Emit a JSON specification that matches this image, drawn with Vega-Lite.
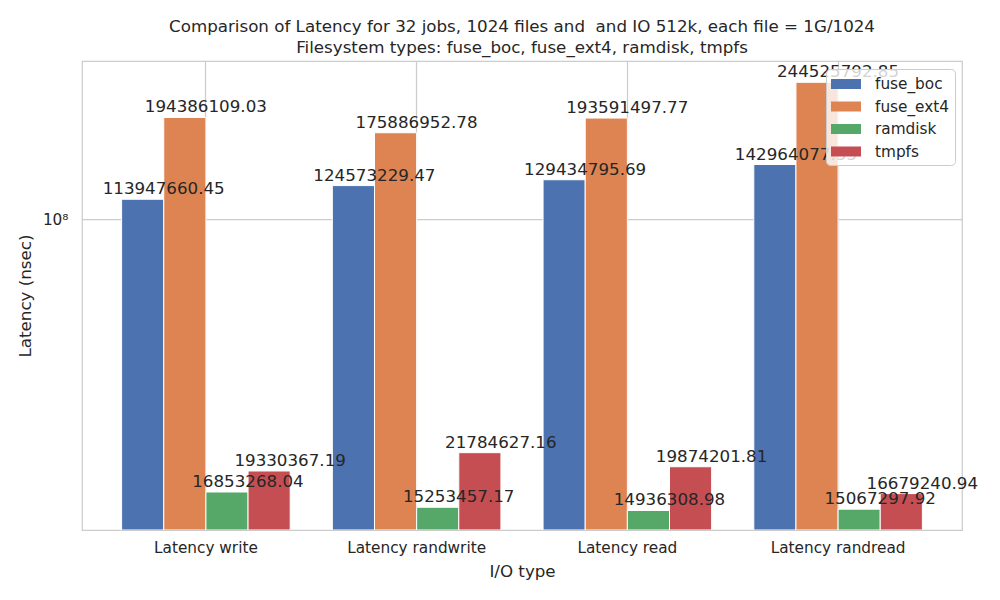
{
  "$schema": "https://vega.github.io/schema/vega-lite/v6.json",
  "width": 880,
  "height": 469,
  "autosize": {"type": "none"},
  "padding": {"left": 82, "top": 61, "right": 38, "bottom": 70},
  "background": "white",
  "title": {
    "text": ["Comparison of Latency for 32 jobs, 1024 files and \u00a0and IO 512k, each file = 1G/1024", "Filesystem types: fuse_boc, fuse_ext4, ramdisk, tmpfs"],
    "font": "DejaVu Sans",
    "fontSize": 16.7,
    "fontWeight": "normal",
    "color": "#262626",
    "lineHeight": 21,
    "offset": 4,
    "anchor": "middle",
    "frame": "group"
  },
  "data": {
    "values": [
      {"io": "Latency write", "fs": "fuse_boc", "latency": 113947660.45},
      {"io": "Latency write", "fs": "fuse_ext4", "latency": 194386109.03},
      {"io": "Latency write", "fs": "ramdisk", "latency": 16853268.04},
      {"io": "Latency write", "fs": "tmpfs", "latency": 19330367.19},
      {"io": "Latency randwrite", "fs": "fuse_boc", "latency": 124573229.47},
      {"io": "Latency randwrite", "fs": "fuse_ext4", "latency": 175886952.78},
      {"io": "Latency randwrite", "fs": "ramdisk", "latency": 15253457.17},
      {"io": "Latency randwrite", "fs": "tmpfs", "latency": 21784627.16},
      {"io": "Latency read", "fs": "fuse_boc", "latency": 129434795.69},
      {"io": "Latency read", "fs": "fuse_ext4", "latency": 193591497.77},
      {"io": "Latency read", "fs": "ramdisk", "latency": 14936308.98},
      {"io": "Latency read", "fs": "tmpfs", "latency": 19874201.81},
      {"io": "Latency randread", "fs": "fuse_boc", "latency": 142964077.33},
      {"io": "Latency randread", "fs": "fuse_ext4", "latency": 244525792.85},
      {"io": "Latency randread", "fs": "ramdisk", "latency": 15067297.92},
      {"io": "Latency randread", "fs": "tmpfs", "latency": 16679240.94}
    ]
  },
  "encoding": {
    "x": {
      "field": "io",
      "type": "nominal",
      "sort": ["Latency write", "Latency randwrite", "Latency read", "Latency randread"],
      "scale": {"paddingInner": 0.2, "paddingOuter": 0.188},
      "axis": {
        "title": "I/O type",
        "labelAngle": 0,
        "ticks": false,
        "domain": false,
        "grid": true,
        "bandPosition": 0.5,
        "gridColor": "#cccccc",
        "gridWidth": 1.25,
        "labelFontSize": 15.3,
        "titleFontSize": 16.7,
        "labelPadding": 10,
        "titlePadding": 8
      }
    },
    "xOffset": {
      "field": "fs",
      "type": "nominal",
      "sort": ["fuse_boc", "fuse_ext4", "ramdisk", "tmpfs"],
      "scale": {"paddingInner": 0, "paddingOuter": 0}
    },
    "y": {
      "field": "latency",
      "type": "quantitative",
      "scale": {"type": "log", "domain": [13150000, 281000000]},
      "axis": {
        "title": "Latency (nsec)",
        "values": [100000000],
        "labelExpr": "'10⁸'",
        "ticks": false,
        "domain": false,
        "grid": true,
        "gridColor": "#cccccc",
        "gridWidth": 1.25,
        "labelFontSize": 15.3,
        "titleFontSize": 16.7,
        "labelPadding": 14,
        "titlePadding": 8
      }
    }
  },
  "layer": [
    {
      "mark": {"type": "bar", "stroke": "white", "strokeWidth": 1, "clip": true},
      "encoding": {
        "y2": {"datum": 13150000},
        "color": {
          "field": "fs",
          "type": "nominal",
          "sort": ["fuse_boc", "fuse_ext4", "ramdisk", "tmpfs"],
          "scale": {"range": ["#4c72b0", "#dd8452", "#55a868", "#c44e52"]},
          "legend": {
            "title": null,
            "orient": "none",
            "legendX": 744,
            "legendY": 8,
            "symbolType": "M-1,-0.5H2V0.5H-1Z",
            "symbolSize": 400,
            "symbolStrokeWidth": 0,
            "symbolOpacity": 1,
            "labelOffset": 24,
            "labelFontSize": 15.3,
            "rowPadding": 3.5,
            "padding": 5,
            "fillColor": "rgba(255,255,255,0.8)",
            "strokeColor": "#cccccc",
            "cornerRadius": 4
          }
        }
      }
    },
    {
      "mark": {"type": "text", "baseline": "bottom", "dy": -1, "dx": 21, "fontSize": 16.7, "color": "#262626"},
      "encoding": {
        "text": {"field": "latency", "type": "quantitative", "format": ".2f"}
      }
    }
  ],
  "config": {
    "font": "DejaVu Sans",
    "view": {"stroke": "#cccccc", "strokeWidth": 1.25},
    "axis": {"labelColor": "#262626", "titleColor": "#262626", "titleFontWeight": "normal", "labelFont": "DejaVu Sans", "titleFont": "DejaVu Sans"},
    "legend": {"labelColor": "#262626", "labelFont": "DejaVu Sans"}
  }
}
